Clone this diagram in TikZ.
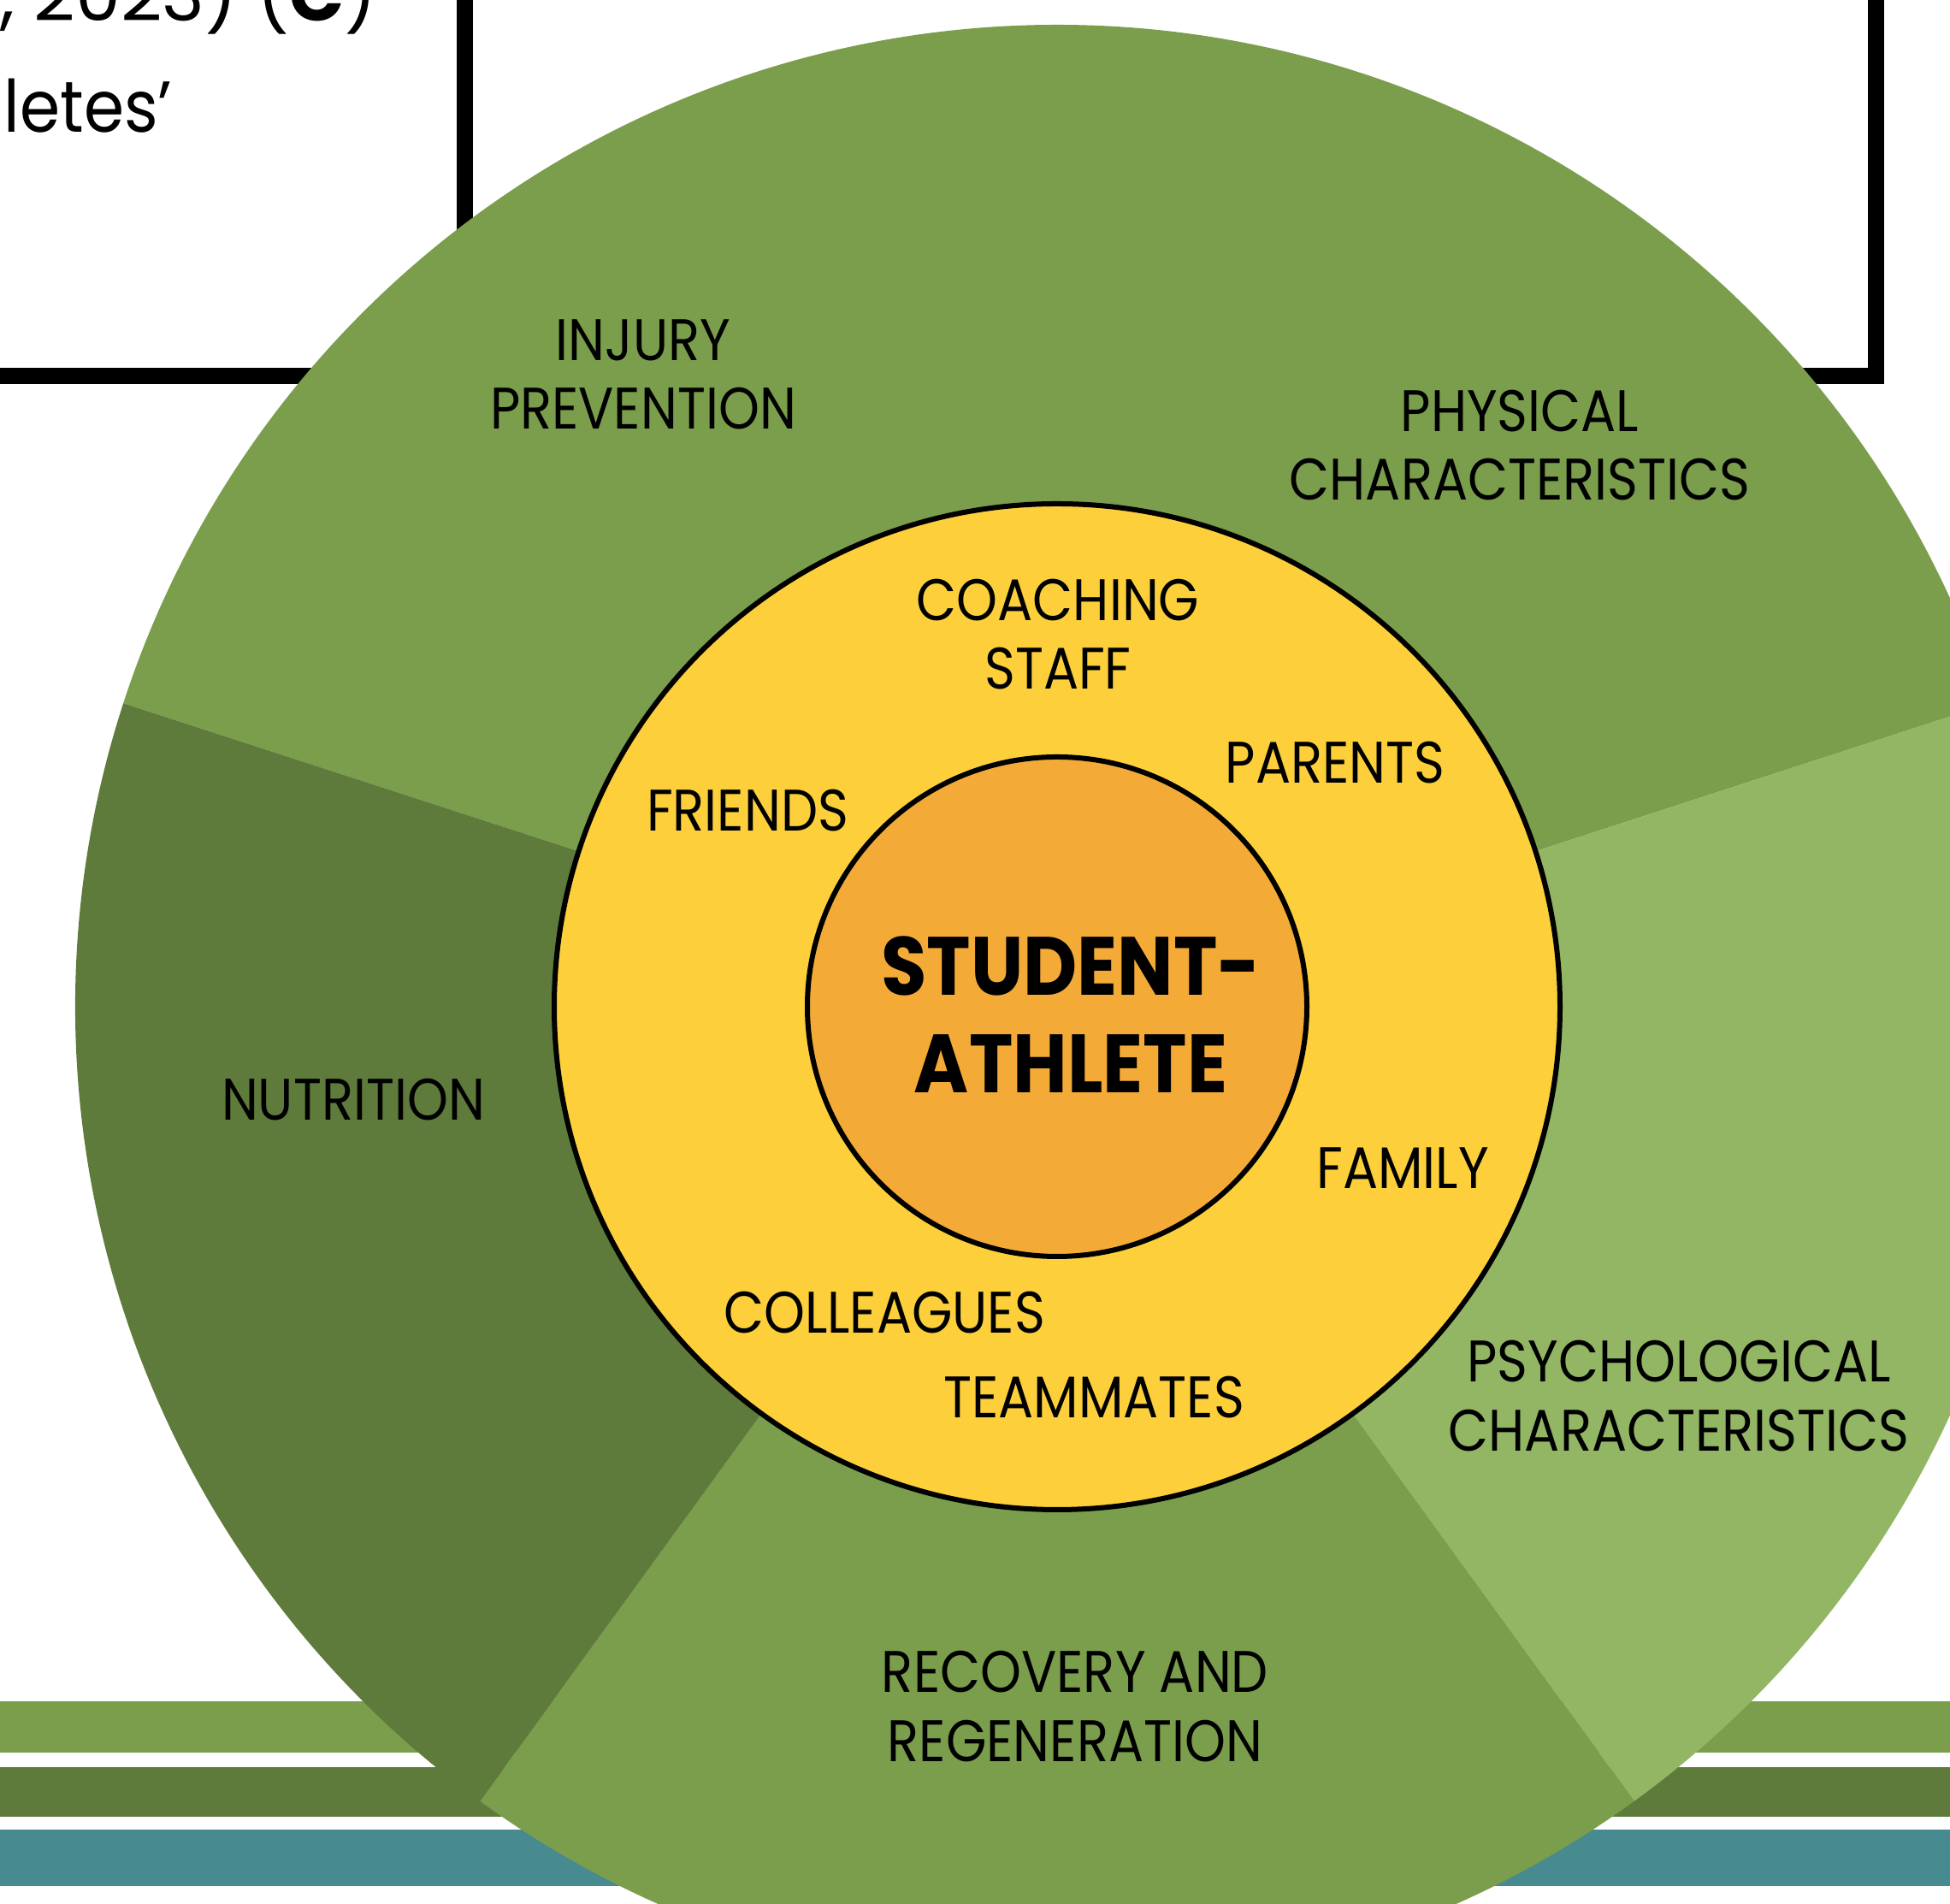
\documentclass[tikz,border=0pt]{standalone}
\usepackage{fontspec}
\setmainfont{Poppins}
\newfontfamily\ringfont{Poppins}[FakeStretch=0.89]
\newfontfamily\corefont{Poppins}[FakeStretch=0.9]
\newfontfamily\boxfont{Poppins}[FakeStretch=0.9]

\definecolor{midgreen}{HTML}{7A9E4B}
\definecolor{darkgreen}{HTML}{5E7B3B}
\definecolor{lightgreen}{HTML}{92B664}
\definecolor{ringyellow}{HTML}{FCCF3B}
\definecolor{coreorange}{HTML}{F4AA37}
\definecolor{stripeteal}{HTML}{478A8F}

\begin{document}
\begin{tikzpicture}[%
       ringlabel/.style={font=\ringfont\fontsize{19.5}{22.8}\selectfont,align=center,inner sep=0pt},
       corelabel/.style={font=\corefont\bfseries\fontsize{27.5}{32.4}\selectfont,align=center,inner sep=0pt},
       boxtext/.style={font=\fontsize{24}{37}\selectfont,anchor=base west,inner sep=0pt},
       frame/.style={draw=black,line width=0.19cm},
       rim/.style={circle,draw=black,line width=0.06cm,inner sep=0pt}
     ]
     \useasboundingbox (0,0) rectangle (22.8,22.26);
     \clip (0,0) rectangle (22.8,22.26);

     % stripes along the bottom
     \fill[midgreen]		(0,1.77) rectangle (22.8,2.37);
     \fill[darkgreen]		(0,1.02) rectangle (22.8,1.60);
     \fill[stripeteal]	(0,0.21) rectangle (22.8,0.87);

     % the two frames at the top
     \draw[frame] (-1,17.865) rectangle (5.435,23);
     \draw[frame] (5.435,17.865) rectangle (21.93,23);
     \node[boxtext]                (cite)  at (0,22.01)    {, 2023) (\textbf{C})};
     \node[boxtext,font=\boxfont\fontsize{24}{37}\selectfont] (words) at (0.04,20.71) {letes’};

     % outer wheel, five sectors
     \coordinate (C) at (12.36,10.49);
     \fill[midgreen]   (C) -- ++(90:11.48)   arc[start angle=90,end angle=162,radius=11.48] -- cycle;
     \fill[midgreen]   (C) -- ++(18:11.48)   arc[start angle=18,end angle=90,radius=11.48] -- cycle;
     \fill[lightgreen] (C) -- ++(-54:11.48)  arc[start angle=-54,end angle=18,radius=11.48] -- cycle;
     \fill[midgreen]   (C) -- ++(-126:11.48) arc[start angle=-126,end angle=-54,radius=11.48] -- cycle;
     \fill[darkgreen]  (C) -- ++(162:11.48)  arc[start angle=162,end angle=234,radius=11.48] -- cycle;

     % inner rings
     \node[rim,fill=ringyellow,minimum size=11.76cm] (ring) at (C) {};
     \node[rim,fill=coreorange,minimum size=5.84cm]  (core) at (C) {};

     \node[corelabel] (athlete) at (12.52,10.40) {STUDENT-\\ATHLETE};

     % support network
     \node[ringlabel] (coach)   at (12.37,14.845) {COACHING\\STAFF};
     \node[ringlabel] (parents) at (15.61,13.34)  {PARENTS};
     \node[ringlabel] (friends) at (8.74,12.78)   {FRIENDS};
     \node[ringlabel] (family)  at (16.40,8.605)  {FAMILY};
     \node[ringlabel] (colleag) at (10.34,6.91)   {COLLEAGUES};
     \node[ringlabel] (team)    at (12.79,5.92)   {TEAMMATES};

     % wheel labels
     \node[ringlabel] (injury)   at (7.52,17.88)  {INJURY\\PREVENTION};
     \node[ringlabel] (physical) at (17.77,17.05) {PHYSICAL\\CHARACTERISTICS};
     \node[ringlabel] (psych)    at (19.63,5.94)  {PSYCHOLOGICAL\\CHARACTERISTICS};
     \node[ringlabel] (recovery) at (12.57,2.31)  {RECOVERY AND\\REGENERATION};
     \node[ringlabel] (food)     at (4.13,9.405)  {NUTRITION};
\end{tikzpicture}
\end{document}
